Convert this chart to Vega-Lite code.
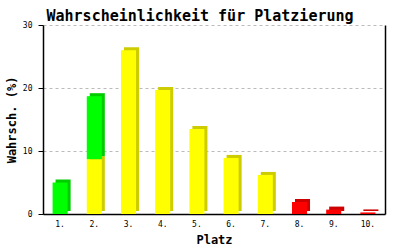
{
  "$schema": "https://vega.github.io/schema/vega-lite/v6.json",
  "width": 342,
  "height": 189,
  "autosize": "none",
  "padding": {"left": 43, "top": 25, "right": 15, "bottom": 36},
  "background": "white",
  "title": {
    "text": "Wahrscheinlichkeit für Platzierung",
    "font": "DejaVu Sans Mono",
    "fontSize": 15,
    "fontWeight": "bold",
    "color": "black",
    "anchor": "middle",
    "dx": -14,
    "offset": -3
  },
  "data": {
    "values": [
      {"platz": "1.", "zone": "Aufstieg", "wert": 5.0},
      {"platz": "2.", "zone": "Mittelfeld", "wert": 8.7},
      {"platz": "2.", "zone": "Aufstieg", "wert": 10.0},
      {"platz": "3.", "zone": "Mittelfeld", "wert": 26.0},
      {"platz": "4.", "zone": "Mittelfeld", "wert": 19.7},
      {"platz": "5.", "zone": "Mittelfeld", "wert": 13.5},
      {"platz": "6.", "zone": "Mittelfeld", "wert": 8.9},
      {"platz": "7.", "zone": "Mittelfeld", "wert": 6.2},
      {"platz": "8.", "zone": "Abstieg", "wert": 1.9},
      {"platz": "9.", "zone": "Abstieg", "wert": 0.7},
      {"platz": "10.", "zone": "Abstieg", "wert": 0.25}
    ]
  },
  "config": {
    "view": {"stroke": null},
    "axis": {
      "labelFont": "DejaVu Sans Mono",
      "labelFontSize": 8,
      "labelColor": "black",
      "titleFont": "DejaVu Sans Mono",
      "titleFontSize": 12,
      "titleFontWeight": "bold",
      "titleColor": "black",
      "domainColor": "black",
      "tickColor": "black"
    }
  },
  "encoding": {
    "x": {
      "field": "platz",
      "type": "ordinal",
      "sort": ["1.", "2.", "3.", "4.", "5.", "6.", "7.", "8.", "9.", "10."],
      "scale": {"paddingInner": 0.56, "paddingOuter": 0.28},
      "axis": {"title": "Platz", "labelAngle": 0, "ticks": false, "labelPadding": 6, "titlePadding": 6, "domainWidth": 1.5}
    }
  },
  "layer": [
    {
      "mark": {"type": "bar", "xOffset": 3, "x2Offset": 3, "yOffset": -3, "y2Offset": 0},
      "encoding": {
        "y": {
          "field": "wert",
          "type": "quantitative",
          "stack": "zero",
          "scale": {"domain": [0, 30]},
          "axis": {
            "title": "Wahrsch. (%)",
            "values": [0, 10, 20, 30],
            "tickSize": 5,
            "labelPadding": 6,
            "titlePadding": 4,
            "grid": true,
            "gridDash": [3, 3],
            "gridColor": "#bbbbbb",
            "domainWidth": 1.5
          }
        },
        "color": {
          "field": "zone",
          "type": "nominal",
          "scale": {"domain": ["Aufstieg", "Mittelfeld", "Abstieg"], "range": ["#00cc00", "#cccc00", "#cc0000"]},
          "legend": null
        },
        "order": {"field": "zone", "sort": "descending"}
      }
    },
    {
      "mark": {"type": "bar"},
      "encoding": {
        "y": {
          "field": "wert",
          "type": "quantitative",
          "stack": "zero",
          "scale": {"domain": [0, 30]},
          "axis": {
            "orient": "right",
            "title": null,
            "labels": false,
            "ticks": false,
            "grid": false,
            "domainWidth": 1.5
          }
        },
        "color": {
          "field": "zone",
          "type": "nominal",
          "scale": {"domain": ["Aufstieg", "Mittelfeld", "Abstieg"], "range": ["#00ff00", "#ffff00", "#ff0000"]},
          "legend": null
        },
        "order": {"field": "zone", "sort": "descending"}
      }
    }
  ],
  "resolve": {"scale": {"color": "independent"}, "axis": {"y": "independent"}}
}
